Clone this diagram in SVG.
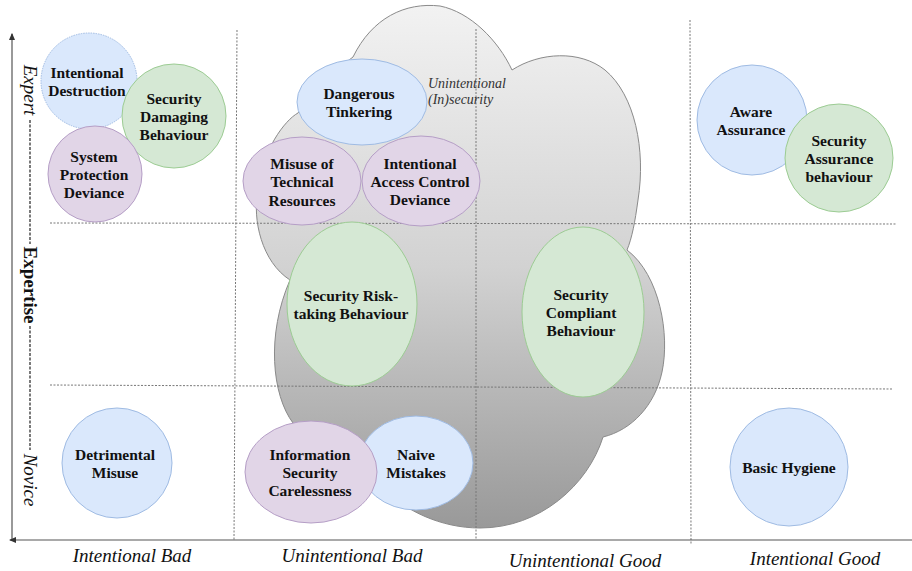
<svg xmlns="http://www.w3.org/2000/svg" width="912" height="571" viewBox="0 0 912 571">
<defs>
<linearGradient id="cloudGrad" x1="0" y1="0" x2="0" y2="1">
<stop offset="0" stop-color="#f2f2f2"/>
<stop offset="0.5" stop-color="#d2d2d2"/>
<stop offset="1" stop-color="#999999"/>
</linearGradient>
<marker id="arr" viewBox="0 0 6 6" refX="5" refY="3" markerWidth="6" markerHeight="6" orient="auto">
<path d="M0,0.5 L6,3 L0,5.5 Z" fill="#333"/>
</marker>
<style>
.grid{stroke:#777;stroke-width:1;stroke-dasharray:2,1.5;fill:none}
.axis{stroke:#555;stroke-width:1.2;fill:none}
.blue{fill:#dae8fc;stroke:#9fbbe3;stroke-width:1}
.green{fill:#d5e8d4;stroke:#9ccc93;stroke-width:1}
.purple{fill:#e1d5e7;stroke:#b59ec6;stroke-width:1}
</style>
</defs>

<g id="cloud">
<path d="M353,57 C372,18 405,2 440,6 C470,12 498,40 512,70 C540,52 580,50 605,70 C635,95 646,150 638,200 C635,222 632,238 627,250 C660,275 670,335 662,372 C655,405 632,430 603,437 C588,485 540,528 480,528 C440,528 405,510 385,490 C340,470 300,450 293,423 C272,395 266,335 290,280 C262,262 252,220 258,190 C262,150 285,120 298,113 C315,90 335,70 353,57 Z" fill="url(#cloudGrad)" stroke="#8a8a8a" stroke-width="1"/>
</g>

<g id="connectors">
<line class="grid" x1="237" y1="30" x2="234" y2="540"/>
<line class="grid" x1="476" y1="29" x2="476" y2="540"/>
<line class="grid" x1="690" y1="20" x2="691" y2="545"/>
<line class="grid" x1="50" y1="223" x2="896" y2="224"/>
<line class="grid" x1="50" y1="385" x2="893" y2="389"/>
<line class="axis" x1="12" y1="540" x2="12" y2="34" marker-end="url(#arr)"/>
<line class="axis" x1="912" y1="540" x2="10" y2="540" marker-end="url(#arr)"/>
<line stroke="#222" stroke-width="1.2" stroke-dasharray="3,1.5" x1="30" y1="120" x2="30" y2="244"/>
<line stroke="#222" stroke-width="1.2" stroke-dasharray="3,1.5" x1="30" y1="326" x2="30" y2="450"/>
</g>

<g id="axis-labels" font-family="Liberation Serif,serif" fill="#111" text-anchor="middle">
<g font-style="italic" font-size="19">
<text transform="translate(24,90) rotate(90)">Expert</text>
<text transform="translate(24,480) rotate(90)">Novice</text>
<text x="132" y="562">Intentional Bad</text>
<text x="352" y="562">Unintentional Bad</text>
<text x="585" y="567">Unintentional Good</text>
<text x="815" y="565">Intentional Good</text>
</g>
<text transform="translate(24,285) rotate(90)" font-weight="bold" font-size="19">Expertise</text>
<g font-style="italic" font-size="14" fill="#333" text-anchor="start">
<text x="428" y="88">Unintentional</text>
<text x="428" y="104">(In)security</text>
</g>
</g>

<g font-family="Liberation Serif,serif" font-weight="bold" font-size="15.5" fill="#111" text-anchor="middle">
<g id="intentional-destruction">
<circle class="blue" cx="89" cy="81" r="48" stroke-dasharray="1.5,1"/>
<text x="87" y="78">Intentional</text>
<text x="87" y="96">Destruction</text>
</g>
<g id="security-damaging-behaviour">
<circle class="green" cx="174" cy="116" r="52"/>
<text x="174" y="104">Security</text>
<text x="174" y="122">Damaging</text>
<text x="174" y="140">Behaviour</text>
</g>
<g id="system-protection-deviance">
<ellipse class="purple" cx="95" cy="174" rx="47" ry="48"/>
<text x="94" y="162">System</text>
<text x="94" y="180">Protection</text>
<text x="94" y="198">Deviance</text>
</g>

<g id="dangerous-tinkering">
<ellipse class="blue" cx="362" cy="102" rx="65" ry="43"/>
<text x="359" y="99">Dangerous</text>
<text x="359" y="117">Tinkering</text>
</g>
<g id="misuse-of-technical-resources">
<ellipse class="purple" cx="302" cy="181" rx="59" ry="44"/>
<text x="302" y="169">Misuse of</text>
<text x="302" y="187">Technical</text>
<text x="302" y="206">Resources</text>
</g>
<g id="intentional-access-control-deviance">
<ellipse class="purple" cx="421" cy="181" rx="59" ry="45"/>
<text x="420" y="169">Intentional</text>
<text x="420" y="187">Access Control</text>
<text x="420" y="205">Deviance</text>
</g>
<g id="security-risk-taking-behaviour">
<ellipse class="green" cx="352" cy="304" rx="65" ry="82"/>
<text x="351" y="301">Security Risk-</text>
<text x="351" y="319">taking Behaviour</text>
</g>
<g id="security-compliant-behaviour">
<ellipse class="green" cx="583" cy="312" rx="61" ry="85"/>
<text x="581" y="300">Security</text>
<text x="581" y="318">Compliant</text>
<text x="581" y="336">Behaviour</text>
</g>

<g id="detrimental-misuse">
<circle class="blue" cx="117" cy="463" r="55"/>
<text x="115" y="460">Detrimental</text>
<text x="115" y="478">Misuse</text>
</g>
<g id="naive-mistakes">
<ellipse class="blue" cx="416" cy="463" rx="57" ry="47"/>
<text x="416" y="460">Naive</text>
<text x="416" y="478">Mistakes</text>
</g>
<g id="information-security-carelessness">
<ellipse class="purple" cx="311" cy="472" rx="66" ry="51"/>
<text x="310" y="460">Information</text>
<text x="310" y="478">Security</text>
<text x="310" y="496">Carelessness</text>
</g>

<g id="aware-assurance">
<circle class="blue" cx="752" cy="120" r="55"/>
<text x="751" y="117">Aware</text>
<text x="751" y="135">Assurance</text>
</g>
<g id="security-assurance-behaviour">
<circle class="green" cx="839" cy="158" r="54"/>
<text x="839" y="146">Security</text>
<text x="839" y="164">Assurance</text>
<text x="839" y="182">behaviour</text>
</g>
<g id="basic-hygiene">
<circle class="blue" cx="789" cy="467" r="59"/>
<text x="789" y="473">Basic Hygiene</text>
</g>
</g>
</svg>
